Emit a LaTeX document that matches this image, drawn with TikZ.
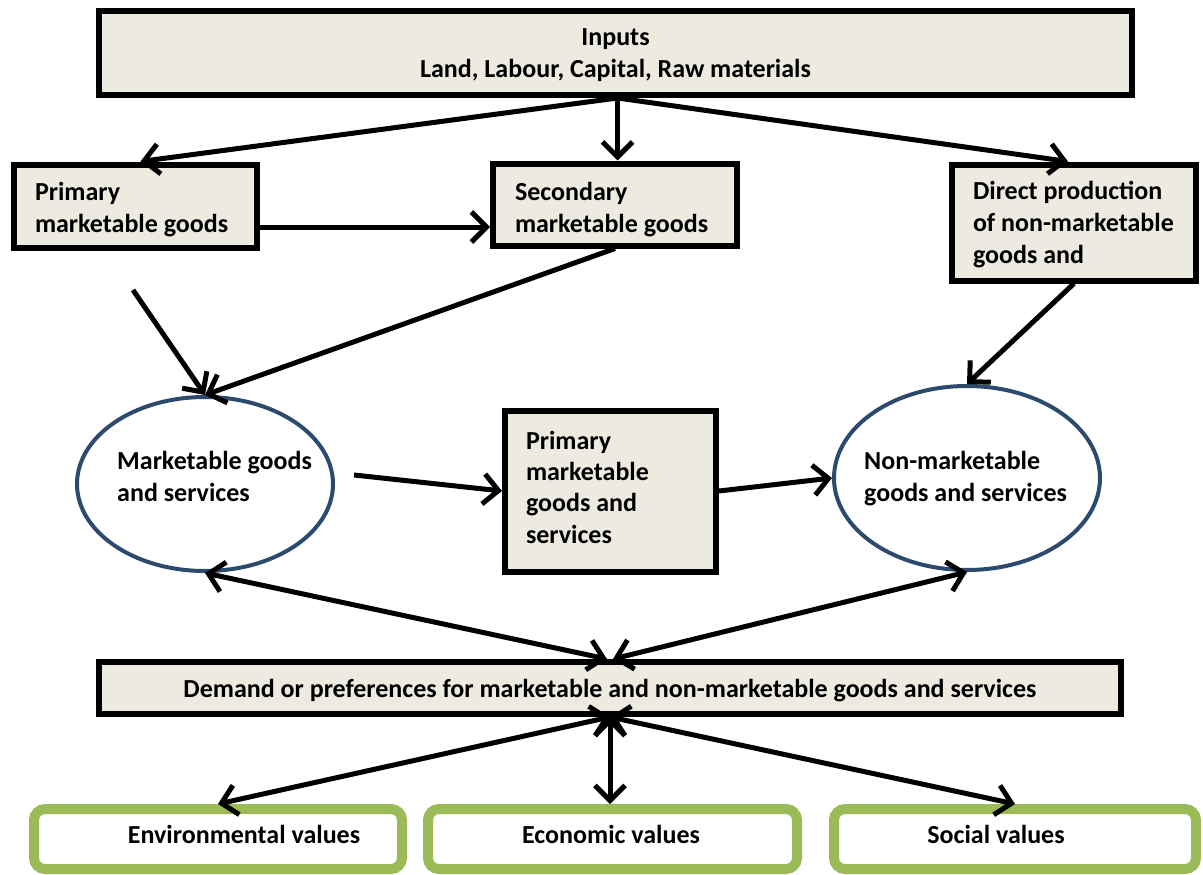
\documentclass[tikz,border=0pt]{standalone}
\usepackage{fontspec}
\setmainfont{Carlito}
\usetikzlibrary{arrows.meta,shapes.geometric,calc}
\definecolor{boxfill}{RGB}{237,234,224}
\definecolor{ellblue}{RGB}{44,74,110}
\definecolor{valgreen}{RGB}{155,187,89}
\tikzset{
  lbl/.style={font=\fontsize{26pt}{32pt}\selectfont\bfseries},
  gbox/.style={draw=black, line width=6pt, fill=boxfill, rectangle, inner sep=0pt, lbl},
  ell/.style={draw=ellblue, line width=4pt, ellipse, fill=white, inner sep=0pt},
  txt/.style={inner sep=0pt, lbl, align=flush left},
  valbox/.style={draw=valgreen, line width=10pt, rounded corners=11pt, fill=white, rectangle, inner sep=0pt, minimum height=60pt},
  tipb/.tip={Straight Barb[length=15pt,width=30pt]},
  arr/.style={line width=5pt, -tipb},
  dbl/.style={line width=5pt, tipb-tipb}
}
\begin{document}
\begin{tikzpicture}[x=1pt,y=-1pt]
\useasboundingbox (0,0) rectangle (1203,875);
% boxes
\node[gbox, minimum width=1033pt, minimum height=84pt, align=center, text depth=-8pt] (inputs) at (615.5,53) {Inputs\\Land, Labour, Capital, Raw materials};
\node[gbox, minimum width=243pt, minimum height=83pt, text width=201pt, align=flush left, text depth=30pt] (prim) at (135.5,206) {Primary\\marketable goods};
\node[gbox, minimum width=244pt, minimum height=82pt, text width=200pt, align=flush left, text depth=27pt] (sec) at (615,204.5) {Secondary\\marketable goods};
\node[gbox, minimum width=244pt, minimum height=116pt, text width=202pt, align=flush left, text depth=65pt] (direct) at (1074,222.5) {Direct production\\of non-marketable\\goods and};
\node[ell, minimum width=256pt, minimum height=174pt] (mkt) at (205,484) {};
\node[txt, anchor=west] (mktt) at (117,476.5) {Marketable goods\\and services};
\node[gbox, minimum width=211pt, minimum height=161pt, text width=169pt, align=flush left, font=\fontsize{26pt}{31.3pt}\selectfont\bfseries, text depth=102pt] (mid) at (610.5,491) {Primary\\marketable\\goods and\\services};
\node[ell, minimum width=266pt, minimum height=184pt] (nmk) at (967,478) {};
\node[txt, anchor=west] (nmkt) at (864,478.5) {Non-marketable\\goods and services};
\node[gbox, minimum width=1022pt, minimum height=52pt, text depth=-6pt] (demand) at (610,688) {Demand or preferences for marketable and non-marketable goods and services};
\node[valbox, minimum width=368pt] (env) at (218,839) {};
\node[txt] (envt) at (244,834) {Environmental values};
\node[valbox, minimum width=369pt] (eco) at (612.5,839) {};
\node[txt] (ecot) at (611,834) {Economic values};
\node[valbox, minimum width=362pt] (soc) at (1015,839) {};
\node[txt] (soct) at (996,834) {Social values};
% free ends and junctions
\coordinate (top) at ($(inputs.south)+(2,0)$);
\coordinate (f1) at (133,290);
\coordinate (f2) at (354,475);
% connectors
\draw[arr] (top) -- ($(prim.north)+(5,0)$);
\draw[arr] (top) -- (top |- sec.north);
\draw[arr] (top) -- ($(direct.north)+(-6,0)$);
\draw[arr] ($(prim.east)+(0,21)$) -- ($(sec.west)+(0,22.5)$);
\draw[arr] (f1) -- (mkt.north);
\draw[arr] (sec.south) -- (mkt.north);
\draw[arr] (direct.south) -- (nmk.north);
\draw[arr] (f2) -- (mid.west);
\draw[arr] (mid.east) -- (nmk.west);
\draw[dbl] (mkt.south) -- ($(demand.north)+(-3,0)$);
\draw[dbl] (nmk.south) -- ($(demand.north)+(3,0)$);
\draw[dbl] (demand.south) -- (env.north);
\draw[dbl] (demand.south) -- (demand.south |- eco.north);
\draw[dbl] (demand.south) -- (soc.north);
\end{tikzpicture}
\end{document}
